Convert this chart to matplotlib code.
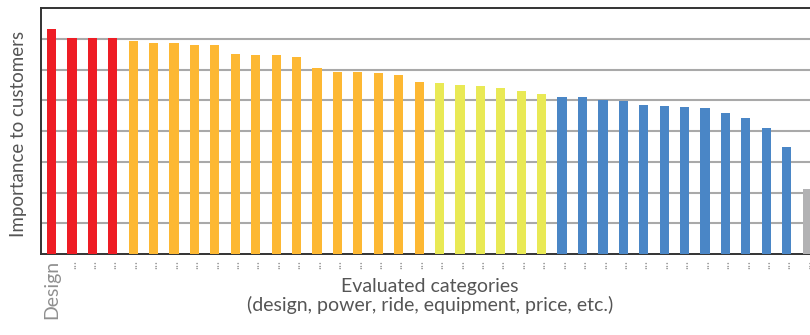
import matplotlib
matplotlib.use("Agg")
import matplotlib.pyplot as plt

# importance score per evaluated category (sorted)
values = [7.32, 7.02, 7.02, 7.02,
          6.93, 6.86, 6.86, 6.80, 6.80, 6.50, 6.47, 6.47, 6.41, 6.05,
          5.92, 5.92, 5.89, 5.82, 5.59,
          5.56, 5.50, 5.46, 5.40, 5.30, 5.20,
          5.11, 5.11, 5.01, 4.98, 4.85, 4.81, 4.78, 4.75, 4.59, 4.42,
          4.10, 3.48,
          2.11]
groups = ["red"] * 4 + ["orange"] * 15 + ["yellow"] * 6 + ["blue"] * 12 + ["gray"]
tick_labels = ["Design"] + ["..."] * (len(values) - 1)

palette = {
    "red": "#ee1d25",
    "orange": "#fdb833",
    "yellow": "#e9e955",
    "blue": "#4a86c6",
    "gray": "#b2b2b4",
}

plt.rcParams["font.family"] = ["Lato", "DejaVu Sans"]

fig = plt.figure(figsize=(8.1, 3.35), dpi=100)
ax = fig.add_axes([41 / 810, (335 - 254) / 335, 779 / 810, 246 / 335])

x = list(range(len(values)))
ax.bar(x, values, width=0.45, color=[palette[g] for g in groups], zorder=3)

ax.set_ylim(0, 8)
ax.set_xlim(-0.514, 37.63)
ax.set_yticks(range(1, 8))
ax.set_yticklabels([])
ax.tick_params(axis="y", length=0)
ax.grid(axis="y", color="#a9a9a9", linewidth=1.5, zorder=0)

ax.set_xticks(x)
ax.set_xticklabels(tick_labels, rotation=90, color="#909090", fontsize=14, va="top")
ax.tick_params(axis="x", length=0, pad=4)
for lbl in ax.get_xticklabels()[1:]:
    lbl.set_fontsize(9)
    lbl.set_color("#999999")

for side in ["left", "bottom", "top"]:
    ax.spines[side].set_color("#333333")
    ax.spines[side].set_linewidth(1.4)
ax.spines["right"].set_visible(False)

fig.text(19 / 810, 1 - 134 / 335, "Importance to customers", rotation=90,
         ha="center", va="center", fontsize=13.5, color="#555555")
fig.text(430 / 810, 1 - 278 / 335,
         "Evaluated categories\n(design, power, ride, equipment, price, etc.)",
         ha="center", va="top", fontsize=14, color="#555555", linespacing=1.05)

fig.savefig("out.png", dpi=100)
plt.close(fig)
